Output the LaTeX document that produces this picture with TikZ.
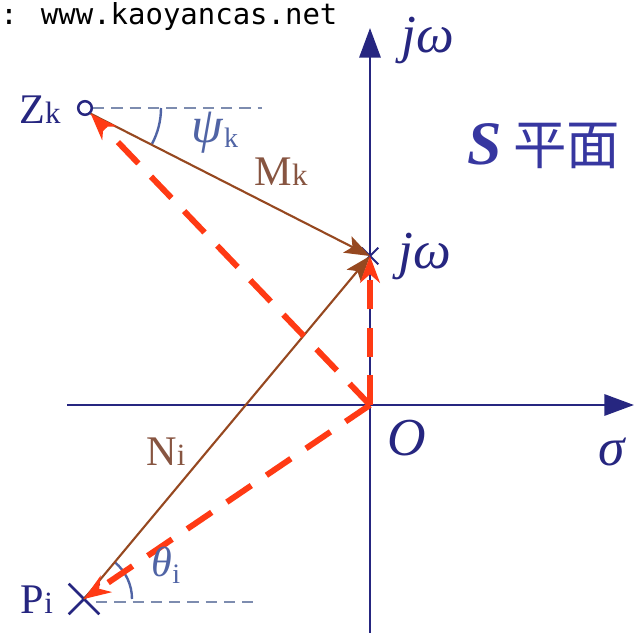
\documentclass[tikz,border=0pt]{standalone}
\usepackage{fontspec}
\setmainfont{Liberation Serif}
\newfontfamily\cjkfont{Noto Sans CJK SC}
\newfontfamily\webfont{DejaVu Sans Mono}
\usetikzlibrary{arrows.meta,shapes.misc}
\definecolor{axisblue}{RGB}{38,38,128}
\definecolor{vecbrown}{RGB}{150,72,32}
\definecolor{labelbrown}{RGB}{135,85,65}
\definecolor{pathred}{RGB}{255,58,20}
\definecolor{refgray}{RGB}{125,140,175}
\definecolor{angleblue}{RGB}{80,100,165}
\definecolor{planeblue}{RGB}{55,55,160}

\begin{document}
\begin{tikzpicture}[x=0.025cm,y=-0.025cm,
    axis/.style={axisblue, line width=1.9pt, -{Triangle[length=21pt,width=15pt]}},
    vector/.style={vecbrown, line width=1.5pt, -{Stealth[length=18pt,width=13pt,inset=4pt]}},
    redpath/.style={pathred, line width=4.2pt, dash pattern=on 21pt off 13pt,
      -{Stealth[length=19pt,width=14pt,inset=6pt]}},
    refline/.style={refgray, line width=1.3pt, dash pattern=on 8pt off 5pt},
    anglearc/.style={angleblue, line width=1.7pt},
    big/.style={font=\fontsize{30}{30}\selectfont},
    greek/.style={font=\fontsize{38}{38}\selectfont\itshape},
  ]
  \useasboundingbox (0,0) rectangle (634,633);

  % watermark
  \node[anchor=base west, inner sep=0, font=\webfont\fontsize{20.6}{21}\selectfont] (web)
    at (0,24) {: www.kaoyancas.net};

  % points
  \coordinate (O) at (370,405);
  \coordinate (J) at (370,256);
  \node[circle, draw=axisblue, line width=1.8pt, inner sep=0, minimum size=0.34cm] (zk) at (85,108) {};
  \node[cross out, draw=axisblue, line width=1.8pt, inner sep=0, minimum size=0.7cm] (pi) at (84,599) {};
  \node[cross out, draw=axisblue, line width=1.5pt, inner sep=0, minimum size=0.36cm] (jw) at (J) {};

  % axes
  \coordinate (xl) at (67,405);
  \coordinate (xr) at (634,405);
  \coordinate (yb) at (370,633);
  \coordinate (yt) at (370,28);
  \draw[axis] (xl) -- (xr);
  \draw[axis] (yb) -- (yt);

  % reference lines and angles
  \coordinate (zkend) at (262,108);
  \coordinate (piend) at (260,602);
  \draw[refline] (zk.east) -- (zkend);
  \draw[refline] (pi.center) ++(12,3) -- (piend);
  \draw[anglearc] (zk.center) ++(76,0) arc (0:28:76);
  \draw[anglearc] (pi.center) ++(48,0) arc (0:-50:48);

  % vectors
  \draw[vector] (zk.south east) -- (jw.center);
  \draw[vector] (pi.center) -- (jw.center);

  % dashed paths from the origin
  \draw[redpath] (O) -- (zk.south east);
  \draw[redpath] (O) -- (pi.center);
  \draw[redpath] (O) -- (jw.center);

  % labels
  \node[big, axisblue] (zklab) at (40,110) {Z{\fontsize{22}{22}\selectfont k}};
  \node[big, axisblue] (pilab) at (37,600) {P{\fontsize{22}{22}\selectfont i}};
  \node[big, labelbrown] (mklab) at (281,172) {M{\fontsize{22}{22}\selectfont k}};
  \node[big, labelbrown] (nilab) at (166,452) {N{\fontsize{22}{22}\selectfont i}};
  \node[angleblue, font=\fontsize{36}{36}\selectfont] (psilab) at (215,133)
    {\textit{ψ}\raisebox{-3pt}{\fontsize{20}{20}\selectfont k}};
  \node[angleblue, font=\fontsize{30}{30}\selectfont] (thetalab) at (166,565)
    {\textit{θ}\raisebox{-5pt}{\fontsize{20}{20}\selectfont i}};
  \node[greek, axisblue] (jwtop) at (428,40) {jω};
  \node[greek, axisblue] (jwlab) at (425,256) {jω};
  \node[greek, axisblue] (olab) at (407,438) {O};
  \node[greek, axisblue] (sigma) at (612,452) {σ};
  \node[planeblue, font=\fontsize{38}{38}\selectfont] (plane) at (544,146)
    {{\fontsize{44}{44}\selectfont\textbf{\textit{S}}}\kern8pt{\cjkfont 平面}};
\end{tikzpicture}
\end{document}
